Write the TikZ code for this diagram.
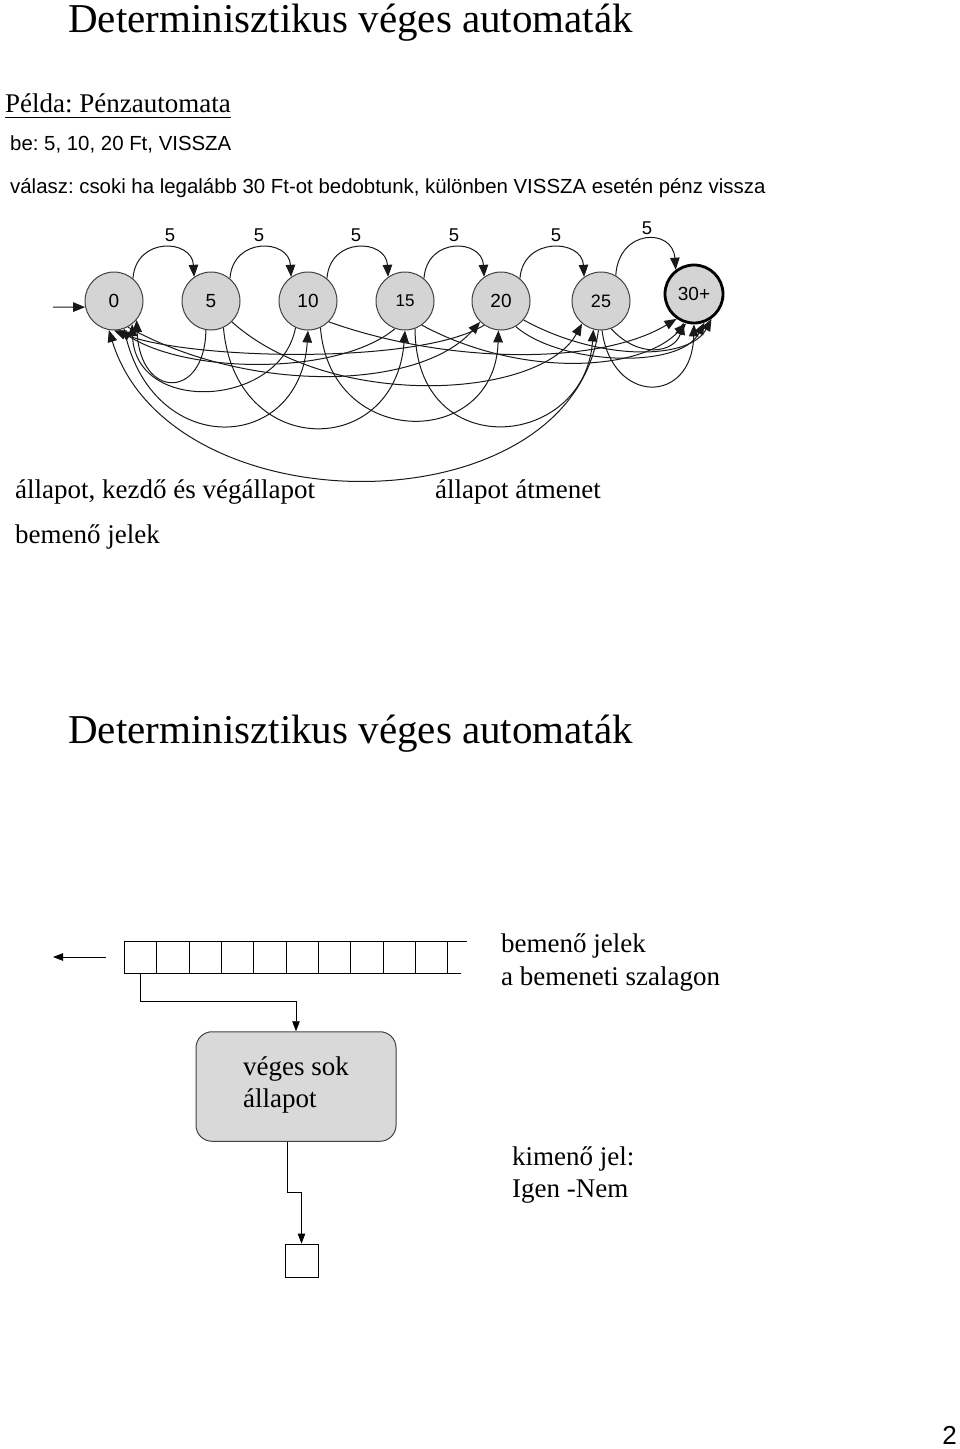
\documentclass[tikz,border=0pt]{standalone}
\usepackage{fontspec}
\setmainfont{Liberation Serif}
\newfontfamily\sansf{Liberation Sans}
\usetikzlibrary{arrows.meta}
\definecolor{stategray}{HTML}{D4D4D4}
\definecolor{boxgray}{HTML}{D9D9D9}
\definecolor{edgegray}{HTML}{404040}
\frenchspacing
\tikzset{
  state/.style={circle, draw=edgegray, line width=1pt, fill=stategray, minimum size=58pt, inner sep=0pt, font=\sansf\fontsize{19}{19}\selectfont},
  finalstate/.style={state, draw=black, line width=2.8pt},
  arr/.style={-{Triangle[length=12pt,width=9.5pt]}, line width=1pt, draw=black!90},
  sarr/.style={-{Triangle[length=10pt,width=7.5pt]}, line width=0.8pt},
  titlef/.style={font=\fontsize{41}{41}\selectfont, inner sep=0pt, anchor=base west},
  serif/.style={font=\fontsize{27}{27}\selectfont, inner sep=0pt, anchor=base west},
  sans/.style={font=\sansf\fontsize{20.4}{20.4}\selectfont, inner sep=0pt, anchor=base west},
  elabel/.style={font=\sansf\fontsize{18.5}{18.5}\selectfont, inner sep=0pt},
  cell/.style={rectangle, draw=black, line width=0.8pt, minimum width=32.3pt, minimum height=31.5pt, inner sep=0pt},
  fsm/.style={rectangle, rounded corners=16pt, draw=edgegray, line width=1pt, fill=boxgray, minimum width=200pt, minimum height=109.5pt, inner sep=0pt},
}
\begin{document}
\begin{tikzpicture}[x=1pt,y=-1pt]
\useasboundingbox (0,0) rectangle (960,1449);
% texts
\node[titlef] (t1) at (68,32) {Determinisztikus véges automaták};
\node[serif] (pelda) at (5,112) {Példa: Pénzautomata};
\draw[line width=1pt] ([yshift=-5pt]pelda.base west) -- ([yshift=-5pt]pelda.base east);
\node[sans] (be) at (10,150) {be: 5, 10, 20 Ft, VISSZA};
\node[sans] (valasz) at (10,193) {válasz: csoki ha legalább 30 Ft-ot bedobtunk, különben VISSZA esetén pénz vissza};
% states
\node[state] (s0) at (114,301) {0};
\node[state] (s5) at (211,301) {5};
\node[state] (s10) at (308,301) {10};
\node[state, font=\sansf\fontsize{17}{17}\selectfont] (s15) at (405,301) {15};
\node[state] (s20) at (501,301) {20};
\node[state, font=\sansf\fontsize{18}{18}\selectfont] (s25) at (601,301) {25};
\node[finalstate] (s30) at (694,294) {30+};
% start arrow
\coordinate (startp) at (53,307);
\draw[arr] (startp) -- (s0.-168);
% top arcs (+5)
\draw[arr] (s0.50) .. controls +(3,-42) and +(-2,-38) .. (s5.125);
\draw[arr] (s5.50) .. controls +(3,-42) and +(-2,-38) .. (s10.125);
\draw[arr] (s10.50) .. controls +(3,-42) and +(-2,-38) .. (s15.125);
\draw[arr] (s15.50) .. controls +(3,-42) and +(-2,-38) .. (s20.125);
\draw[arr] (s20.50) .. controls +(3,-42) and +(-2,-38) .. (s25.125);
\draw[arr] (s25.60) .. controls +(3,-47) and +(-3,-42) .. (s30.127);
\node[elabel] (l5a) at (170,235) {5};
\node[elabel] (l5b) at (259,235) {5};
\node[elabel] (l5c) at (356,235) {5};
\node[elabel] (l5d) at (454,235) {5};
\node[elabel] (l5e) at (556,235) {5};
\node[elabel] (l5f) at (647,228) {5};
% VISSZA -> 0
\draw[arr] (s5.-100) .. controls (205,400) and (140,400) .. (s0.-40);
\draw[arr] (s10.-115) .. controls (280,408) and (135,415) .. (s0.-52);
\draw[arr] (s15.-110) .. controls (340,375) and (190,375) .. (s0.-80);
\draw[arr] (s20.-125) .. controls (420,365) and (190,360) .. (s0.-90);
\draw[arr] (s25.-95) .. controls (570,530) and (170,530) .. (s0.-100);
% +10
\draw[arr] (s0.-70) .. controls (150,460) and (300,455) .. (s10.-90);
\draw[arr] (s5.-65) .. controls (235,460) and (395,460) .. (s15.-90);
\draw[arr] (s10.-65) .. controls (330,450) and (495,450) .. (s20.-95);
\draw[arr] (s15.-70) .. controls (415,465) and (585,450) .. (s25.-105);
\draw[arr] (s20.-60) .. controls (560,365) and (680,370) .. (s30.-70);
\draw[arr] (s25.-88) .. controls (612,405) and (692,405) .. (s30.-90);
% +20
\draw[arr] (s0.-62) .. controls (250,395) and (420,390) .. (s20.-135);
\draw[arr] (s5.-45) .. controls (330,410) and (540,400) .. (s25.-130);
\draw[arr] (s10.-45) .. controls (450,365) and (600,365) .. (s30.-125);
\draw[arr] (s15.-55) .. controls (520,378) and (640,372) .. (s30.-105);
\draw[arr] (s20.-40) .. controls (600,362) and (690,360) .. (s30.-55);
\draw[arr] (s25.-70) .. controls (640,360) and (675,352) .. (s30.-110);
% legend texts
\node[serif] (lg1) at (15,498) {állapot, kezdő és végállapot};
\node[serif] (lg2) at (435,498) {állapot átmenet};
\node[serif] (lg3) at (15,543) {bemenő jelek};
% second part
\node[titlef] (t2) at (68,743) {Determinisztikus véges automaták};
\foreach \i in {1,...,10} {
  \node[cell] (c\i) at ({124.5+32.3*(\i-0.5)},957.3) {};
}
\draw[line width=0.8pt] (c10.north east) -- ++(19,0);
\draw[line width=0.8pt] (c10.south east) -- ++(13,0);
\coordinate (tapeR) at (106,957);
\coordinate (tapeL) at (53,957);
\draw[sarr] (tapeR) -- (tapeL);
\node[serif] (r1) at (501,952) {bemenő jelek};
\node[serif] (r2) at (501,985) {a bemeneti szalagon};
\node[fsm] (box) at (296,1086.5) {};
\node[serif] (b1) at (243,1075) {véges sok};
\node[serif] (b2) at (243,1107) {állapot};
\coordinate (j1) at (296,1001.7);
\draw[sarr] (c1.south) |- (j1) -- (box.north);
\node[cell, minimum width=33pt, minimum height=33pt] (outb) at (301.5,1260.5) {};
\coordinate (o1) at (287,1192);
\coordinate (o2) at (301.5,1192);
\draw[sarr] (box.south -| o1) -- (o1) -- (o2) -- (outb.north);
\node[serif] (k1) at (512,1165) {kimenő jel:};
\node[serif] (k2) at (512,1197) {Igen -Nem};
\node[font=\sansf\fontsize{26}{26}\selectfont, inner sep=0pt, anchor=base east] (pg) at (957,1444) {2};
\end{tikzpicture}
\end{document}
